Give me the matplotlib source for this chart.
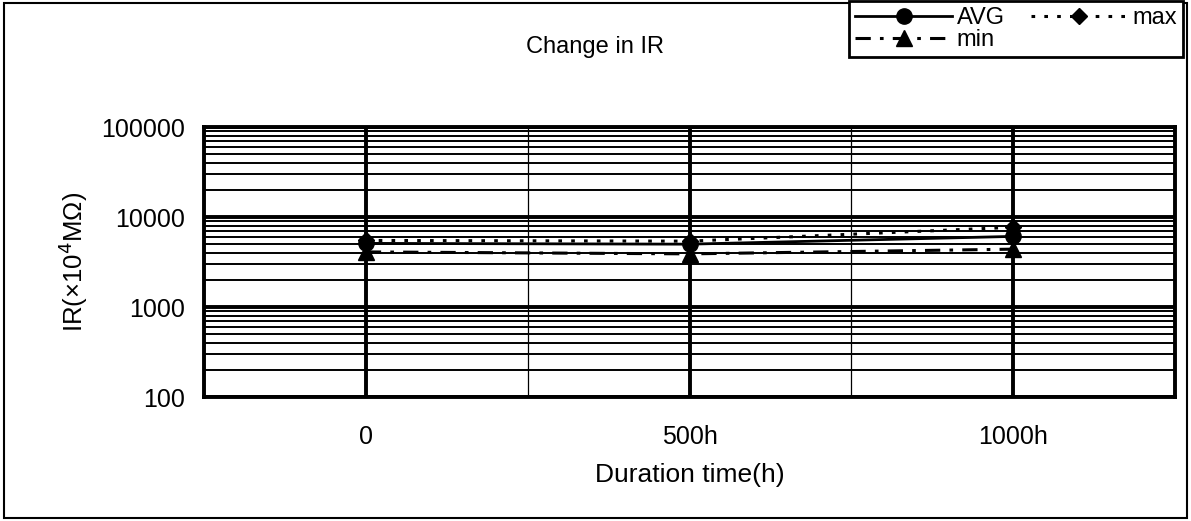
import matplotlib
matplotlib.use('Agg')
import matplotlib.pyplot as plt
from matplotlib.patches import Rectangle
from matplotlib.ticker import FixedLocator, MultipleLocator, NullFormatter

plt.rcParams['font.family'] = ['Liberation Sans', 'DejaVu Sans']

hours = [0, 500, 1000]
hour_labels = ['0', '500h', '1000h']
ir_avg = [5100, 5000, 6100]
ir_max = [5500, 5400, 7700]
ir_min = [4100, 3900, 4400]

fig = plt.figure(figsize=(11.91, 5.21), dpi=100)
ax = fig.add_axes([0.1713, 0.238, 0.8153, 0.518])

l_avg, = ax.plot(hours, ir_avg, color='k', lw=2, ls='-', marker='o', ms=11, label='AVG')
l_max, = ax.plot(hours, ir_max, color='k', lw=2.2, ls=(0, (1.2, 3)), marker='D', ms=8.5, label='max')
l_min, = ax.plot(hours, ir_min, color='k', lw=2.2, ls=(0, (5, 3, 1.2, 3)), marker='^', ms=11, label='min')

ax.set_yscale('log')
ax.set_ylim(100, 100000)
ax.set_xlim(-250, 1250)
ax.xaxis.set_major_locator(FixedLocator(hours))
ax.set_xticklabels(hour_labels)
ax.xaxis.set_minor_locator(MultipleLocator(250))
ax.yaxis.set_minor_formatter(NullFormatter())
ax.set_yticks([100, 1000, 10000, 100000])
ax.set_yticklabels(['100', '1000', '10000', '100000'])

ax.grid(which='major', axis='both', color='k', lw=2.8)
ax.grid(which='minor', axis='y', color='k', lw=1.4)
ax.grid(which='minor', axis='x', color='k', lw=0.9)
ax.set_axisbelow(True)

ax.tick_params(which='both', length=0)
ax.tick_params(axis='y', labelsize=18, pad=14)
ax.tick_params(axis='x', labelsize=18, pad=20)
for s in ax.spines.values():
    s.set_linewidth(2.8)

ax.set_xlabel('Duration time(h)', fontsize=19, labelpad=10)
ax.set_ylabel('IR(×10$^4$MΩ)', fontsize=18.5, labelpad=8)
fig.text(0.5, 0.91, 'Change in IR', fontsize=17, ha='center', va='center')

leg = fig.legend(handles=[l_avg, l_min, l_max], loc='upper right',
                 bbox_to_anchor=(0.993, 0.998), ncol=2, fontsize=17,
                 frameon=True, fancybox=False, edgecolor='k', framealpha=1,
                 handlelength=4.1, handletextpad=0.2, columnspacing=1.1,
                 borderpad=0.25, labelspacing=0.0, borderaxespad=0)
leg.get_frame().set_linewidth(2)

fig.add_artist(Rectangle((0.003, 0.005), 0.994, 0.99, transform=fig.transFigure,
                         fill=False, lw=1.5, ec='k'))

fig.savefig('out.png', dpi=100)
